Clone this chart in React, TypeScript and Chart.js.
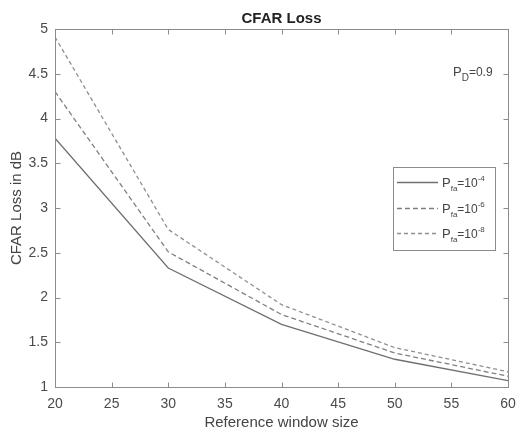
import React, { useEffect, useRef } from "react";
import { Chart, registerables } from "chart.js";

Chart.register(...registerables);

const FONT = "'Liberation Sans', Arial, Helvetica, sans-serif";

const chartTitle = "CFAR Loss";
const xAxisLabel = "Reference window size";
const yAxisLabel = "CFAR Loss in dB";
const windowSizes = [20, 30, 40, 50, 60];
const lossPfa4 = [3.78, 2.33, 1.7, 1.31, 1.07];
const lossPfa6 = [4.3, 2.51, 1.81, 1.38, 1.12];
const lossPfa8 = [4.91, 2.76, 1.92, 1.44, 1.17];
const pfaExponents = ["-4", "-6", "-8"];
const pdValue = "0.9";

type Part = [string, number, number];

function drawRich(ctx: CanvasRenderingContext2D, x: number, y: number, parts: Part[]) {
  let cx = x;
  for (const [text, size, dy] of parts) {
    ctx.font = `${size}px ${FONT}`;
    ctx.fillText(text, cx, y + dy);
    cx += ctx.measureText(text).width;
  }
}

const decorPlugin = {
  id: "decor",
  afterDraw(chart: any) {
    const { ctx, chartArea: a, scales } = chart;
    const xs = scales.x;
    const ys = scales.y;
    ctx.save();
    // box
    ctx.strokeStyle = "#8c8c8c";
    ctx.lineWidth = 1;
    const L = Math.round(a.left) + 0.5;
    const T = Math.round(a.top) + 0.5;
    const R = Math.round(a.right) + 0.5;
    const B = Math.round(a.bottom) + 0.5;
    ctx.strokeRect(L, T, R - L, B - T);
    const tl = 5;
    ctx.beginPath();
    xs.ticks.forEach((t: any) => {
      const p = Math.round(xs.getPixelForValue(t.value)) + 0.5;
      if (p <= L + 1 || p >= R - 1) return;
      ctx.moveTo(p, B);
      ctx.lineTo(p, B - tl);
      ctx.moveTo(p, T);
      ctx.lineTo(p, T + tl);
    });
    ys.ticks.forEach((t: any) => {
      const p = Math.round(ys.getPixelForValue(t.value)) + 0.5;
      if (p <= T + 1 || p >= B - 1) return;
      ctx.moveTo(L, p);
      ctx.lineTo(L + tl, p);
      ctx.moveTo(R, p);
      ctx.lineTo(R - tl, p);
    });
    ctx.stroke();

    // title
    ctx.fillStyle = "#222";
    ctx.font = `bold 15px ${FONT}`;
    ctx.textAlign = "center";
    ctx.textBaseline = "alphabetic";
    ctx.fillText(chartTitle, (a.left + a.right) / 2, a.top - 6);

    // P_D annotation
    ctx.textAlign = "left";
    ctx.fillStyle = "#444";
    drawRich(ctx, a.right - 55, a.top + 47, [
      ["P", 13, 0],
      ["D", 10, 5],
      ["=" + pdValue, 12, 0],
    ]);

    // legend
    const bx = a.right - 115;
    const by = a.top + 138;
    const bw = 102;
    const bh = 83;
    ctx.fillStyle = "#fff";
    ctx.fillRect(Math.round(bx) + 0.5, Math.round(by) + 0.5, bw, bh);
    ctx.strokeStyle = "#8c8c8c";
    ctx.lineWidth = 1;
    ctx.strokeRect(Math.round(bx) + 0.5, Math.round(by) + 0.5, bw, bh);
    chart.data.datasets.forEach((ds: any, i: number) => {
      const ry = Math.round(by + 15 + i * 25.5) + 0.5;
      ctx.save();
      ctx.strokeStyle = ds.borderColor;
      ctx.lineWidth = ds.borderWidth;
      ctx.setLineDash(ds.borderDash || []);
      ctx.beginPath();
      ctx.moveTo(bx + 4, ry);
      ctx.lineTo(bx + 45, ry);
      ctx.stroke();
      ctx.restore();
      ctx.fillStyle = "#444";
      ctx.textAlign = "left";
      drawRich(ctx, bx + 49, ry + 4, [
        ["P", 13, 0],
        ["fa", 8, 4],
        ["=10", 12, 0],
        [pfaExponents[i], 8, -6],
      ]);
    });
    ctx.restore();
  },
};

export default function App() {
  const ref = useRef<HTMLCanvasElement | null>(null);
  useEffect(() => {
    document.body.style.margin = "0";
    if (!ref.current) return;
    const mk = (vals: number[]) => windowSizes.map((x, i) => ({ x, y: vals[i] }));
    const chart = new Chart(ref.current, {
      type: "line",
      data: {
        datasets: [
          {
            label: "Pfa=10^-4",
            data: mk(lossPfa4),
            borderColor: "#6f6f6f",
            borderWidth: 1.3,
            pointRadius: 0,
            tension: 0,
          },
          {
            label: "Pfa=10^-6",
            data: mk(lossPfa6),
            borderColor: "#808080",
            borderWidth: 1.3,
            borderDash: [5, 3],
            pointRadius: 0,
            tension: 0,
          },
          {
            label: "Pfa=10^-8",
            data: mk(lossPfa8),
            borderColor: "#8f8f8f",
            borderWidth: 1.3,
            borderDash: [4, 3],
            pointRadius: 0,
            tension: 0,
          },
        ],
      },
      options: {
        animation: false,
        responsive: true,
        maintainAspectRatio: false,
        layout: { padding: { top: 29, right: 10, left: 0, bottom: 0 } },
        plugins: {
          legend: { display: false },
          title: { display: false },
          tooltip: { enabled: false },
        },
        scales: {
          x: {
            type: "linear",
            min: 20,
            max: 60,
            grid: { display: false, drawTicks: false },
            border: { display: false },
            ticks: {
              stepSize: 5,
              padding: 9,
              color: "#4a4a4a",
              font: { family: FONT, size: 14 },
              maxRotation: 0,
            },
            title: {
              display: true,
              text: xAxisLabel,
              color: "#444",
              font: { family: FONT, size: 15 },
              padding: { top: 0, bottom: 0 },
            },
            afterFit: (s: any) => {
              s.height = 45;
              s.paddingLeft = 0;
              s.paddingRight = 0;
            },
          },
          y: {
            type: "linear",
            min: 1,
            max: 5,
            grid: { display: false, drawTicks: false },
            border: { display: false },
            ticks: {
              stepSize: 0.5,
              padding: 7,
              color: "#4a4a4a",
              font: { family: FONT, size: 14 },
              callback: (v: any) => String(Number(v)),
            },
            title: {
              display: true,
              text: yAxisLabel,
              color: "#444",
              font: { family: FONT, size: 15 },
              padding: { top: 8, bottom: 0 },
            },
            afterFit: (s: any) => {
              s.width = 55;
              s.paddingTop = 0;
              s.paddingBottom = 0;
            },
          },
        },
      },
      plugins: [decorPlugin],
    });
    return () => chart.destroy();
  }, []);
  return (
    <div style={{ position: "absolute", left: 0, top: 0, width: 518, height: 432, background: "#fff" }}>
      <canvas ref={ref} />
    </div>
  );
}
